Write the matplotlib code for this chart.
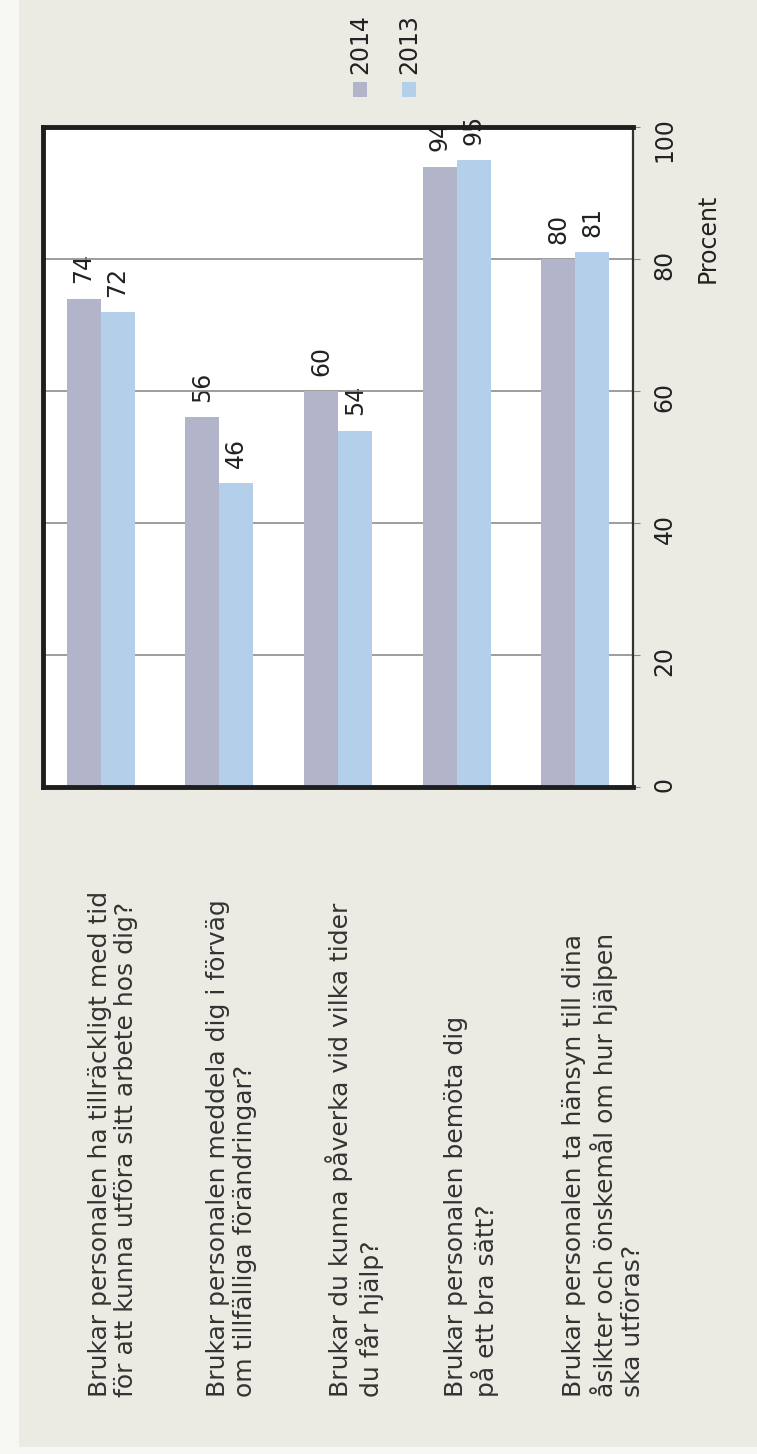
#!/usr/bin/env python3
import numpy as np
import matplotlib
matplotlib.use("Agg")
import matplotlib.pyplot as plt
from matplotlib.patches import Rectangle
import matplotlib.transforms as mtransforms

# Data (questions top-to-bottom in the original chart)
questions = [
    "Brukar personalen ha tillräckligt med tid\nför att kunna utföra sitt arbete hos dig?",
    "Brukar personalen meddela dig i förväg\nom tillfälliga förändringar?",
    "Brukar du kunna påverka vid vilka tider\ndu får hjälp?",
    "Brukar personalen bemöta dig\npå ett bra sätt?",
    "Brukar personalen ta hänsyn till dina\nåsikter och önskemål om hur hjälpen\nska utföras?",
]
series_names = ["2014", "2013"]
values_2014 = [74, 56, 60, 94, 80]
values_2013 = [72, 46, 54, 95, 81]
ticks = [0, 20, 40, 60, 80, 100]

colors = ["#b2b4c9", "#b4cfea"]
W, H = 757, 1454

plt.rcParams["font.family"] = ["DejaVu Sans"]

fig = plt.figure(figsize=(W / 100, H / 100), dpi=100, facecolor="#f7f7f3")

# Paper panel behind the chart
fig.add_artist(Rectangle((19 / W, 7 / H), 1 - 19 / W, 1 - 7 / H,
                         transform=fig.transFigure, facecolor="#ecebe3",
                         edgecolor="none", zorder=0))

# Axes box: x 43-633 px, y 127-787 px (image coords)
ax = fig.add_axes([43 / W, (H - 787) / H, (633 - 43) / W, (787 - 127) / H])
ax.set_facecolor("white")

x = np.arange(len(questions))
bw = 0.287
bars_a = ax.bar(x - bw / 2, values_2014, bw, color=colors[0], zorder=3)
bars_b = ax.bar(x + bw / 2, values_2013, bw, color=colors[1], zorder=3)

for bars, vals in [(bars_a, values_2014), (bars_b, values_2013)]:
    for b, v in zip(bars, vals):
        ax.annotate(str(v), (b.get_x() + b.get_width() / 2, v),
                    xytext=(0, 11), textcoords="offset points",
                    rotation=90, ha="center", va="bottom",
                    fontsize=17, color="#222222", annotation_clip=False,
                    zorder=1)

ax.set_xlim(-0.485, 4.485)
ax.set_ylim(0, 100)
ax.set_yticks(ticks)
ax.yaxis.tick_right()
ax.tick_params(axis="y", labelrotation=90, labelsize=17, length=5,
               color="#888888", pad=9, labelcolor="#222222")
ax.set_xticks([])
ax.grid(axis="y", color="#8c8c8c", linewidth=1.2, zorder=1)

for side in ["left", "top", "bottom"]:
    ax.spines[side].set_linewidth(3.5)
    ax.spines[side].set_color("#1e1e1e")
    ax.spines[side].set_zorder(4)
ax.spines["right"].set_linewidth(1.6)
ax.spines["right"].set_color("#333333")

ax.text(1.127, 0.832, "Procent", transform=ax.transAxes, rotation=90,
        ha="center", va="center", fontsize=17, color="#222222")

# Question texts below the box (rotated)
trans = mtransforms.blended_transform_factory(ax.transData, ax.transAxes)
for i, q in enumerate(questions):
    ax.text(i - 0.11, -0.924, q, transform=trans, rotation=90,
            ha="left", va="bottom", multialignment="left",
            fontsize=18, color="#333333", linespacing=1.15,
            clip_on=False)

# Legend (rotated)
for k, (name, c) in enumerate(zip(series_names, colors)):
    xc = 360 + k * 49
    fig.add_artist(Rectangle(((xc - 7) / W, (H - 97) / H), 14 / W, 15 / H,
                             transform=fig.transFigure, facecolor=c,
                             edgecolor="none"))
    fig.text(xc / W, (H - 74) / H, name, rotation=90, ha="center",
             va="bottom", fontsize=17, color="#222222")

fig.savefig("out.png", dpi=100, facecolor=fig.get_facecolor())
